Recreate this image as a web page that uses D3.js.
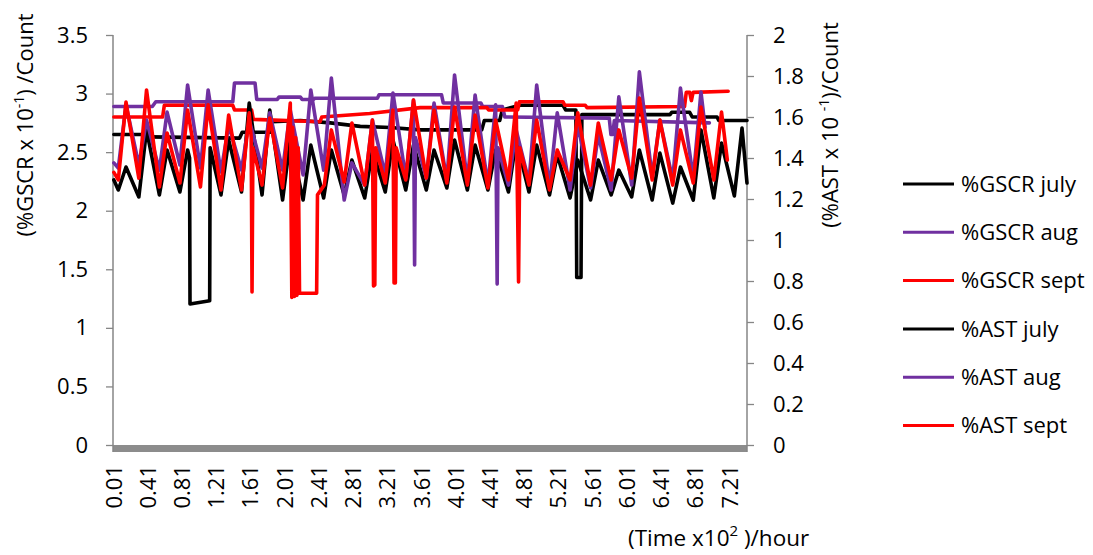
<!DOCTYPE html>
<html><head><meta charset="utf-8">
<script src="https://cdn.jsdelivr.net/npm/d3@7"></script>
<style>
body{margin:0;background:#fff;}
svg{display:block;font-family:"Open Sans",sans-serif;}
</style></head>
<body><svg id="c" width="1093" height="555"></svg>
<script>
// ---------- tick labels ----------
const timeTicks = ["0.01","0.41","0.81","1.21","1.61","2.01","2.41","2.81","3.21","3.61","4.01","4.41","4.81","5.21","5.61","6.01","6.41","6.81","7.21"];
const leftTicks = [0,0.5,1,1.5,2,2.5,3,3.5];
const rightTicks = [0,0.2,0.4,0.6,0.8,1,1.2,1.4,1.6,1.8,2];
const legendLabels = ["%GSCR july","%GSCR aug","%GSCR sept","%AST july","%AST aug","%AST sept"];

// ---------- series (time x10^2 h, value) ----------
// %GSCR (left axis) – slowly stepping levels
const gscrJuly = [[0.01,2.65],[0.35,2.65],[0.43,2.63],[1.48,2.62],[1.51,2.67],[1.84,2.67],[1.86,2.76],[2.19,2.77],[2.54,2.75],[2.89,2.72],[3.24,2.71],[3.59,2.69],[4.31,2.69],[4.34,2.77],[4.52,2.77],[4.55,2.86],[4.76,2.90],[5.26,2.90],[5.29,2.86],[5.41,2.86],[5.42,1.43],[5.47,1.43],[5.48,2.82],[6.51,2.82],[6.53,2.84],[6.74,2.84],[6.77,2.80],[7.06,2.80],[7.08,2.77],[7.41,2.77]];
const gscrAug = [[0.01,2.89],[0.46,2.89],[0.50,2.93],[1.40,2.93],[1.42,3.09],[1.66,3.09],[1.68,2.95],[1.92,2.95],[1.94,2.97],[2.19,2.97],[2.21,2.95],[2.34,2.95],[2.36,2.96],[3.09,2.96],[3.11,2.99],[3.84,2.99],[3.86,2.92],[4.30,2.92],[4.32,2.89],[4.55,2.89],[4.58,2.80],[5.80,2.79],[5.82,2.65],[5.84,2.65],[5.86,2.77],[6.97,2.75]];
const gscrSept = [[0.01,2.80],[0.58,2.80],[0.60,2.90],[1.40,2.90],[1.42,2.86],[1.62,2.86],[1.64,2.78],[2.42,2.76],[2.44,2.80],[3.00,2.83],[3.59,2.88],[4.37,2.88],[4.39,2.86],[4.73,2.86],[4.75,2.93],[5.26,2.93],[5.28,2.90],[5.52,2.90],[5.54,2.88],[6.68,2.89],[6.70,3.01],[6.74,3.01],[6.76,2.94],[6.78,3.01],[7.19,3.02]];

// %AST (right axis) – daily cycles
const astJuly = [[0.01,1.293],[0.062,1.244],[0.152,1.356],[0.302,1.21],[0.392,1.537],[0.542,1.22],[0.632,1.439],[0.782,1.234],[0.872,1.439],[0.895,1.40],[0.90,0.688],[1.13,0.704],[1.135,1.45],[1.262,1.22],[1.352,1.488],[1.502,1.234],[1.592,1.668],[1.742,1.22],[1.832,1.634],[1.982,1.195],[2.072,1.488],[2.222,1.195],[2.312,1.463],[2.462,1.205],[2.552,1.439],[2.702,1.22],[2.792,1.39],[2.942,1.205],[3.032,1.439],[3.182,1.234],[3.272,1.488],[3.422,1.244],[3.512,1.463],[3.662,1.244],[3.752,1.439],[3.902,1.254],[3.992,1.488],[4.142,1.244],[4.232,1.463],[4.382,1.244],[4.472,1.439],[4.622,1.234],[4.712,1.488],[4.862,1.234],[4.952,1.463],[5.102,1.22],[5.192,1.415],[5.342,1.205],[5.432,1.39],[5.582,1.195],[5.672,1.39],[5.822,1.22],[5.912,1.341],[6.062,1.21],[6.152,1.439],[6.302,1.195],[6.392,1.424],[6.542,1.18],[6.632,1.356],[6.782,1.195],[6.872,1.537],[7.022,1.205],[7.112,1.473],[7.262,1.215],[7.352,1.546],[7.41,1.278]];
const astAug = [[0.01,1.376],[0.062,1.351],[0.152,1.659],[0.302,1.366],[0.392,1.585],[0.542,1.341],[0.632,1.624],[0.782,1.366],[0.872,1.756],[1.022,1.351],[1.112,1.732],[1.262,1.332],[1.352,1.561],[1.502,1.341],[1.592,1.585],[1.742,1.351],[1.832,1.62],[1.982,1.341],[2.072,1.634],[2.222,1.317],[2.312,1.732],[2.462,1.341],[2.552,1.79],[2.702,1.195],[2.792,1.376],[2.942,1.268],[3.032,1.585],[3.182,1.317],[3.272,1.717],[3.422,1.302],[3.512,1.683],[3.525,0.878],[3.535,1.5],[3.662,1.302],[3.752,1.668],[3.902,1.293],[3.992,1.805],[4.142,1.283],[4.232,1.707],[4.382,1.268],[4.472,1.659],[4.49,0.785],[4.50,1.45],[4.622,1.268],[4.712,1.537],[4.862,1.283],[4.952,1.756],[5.102,1.259],[5.192,1.62],[5.342,1.244],[5.432,1.561],[5.582,1.254],[5.672,1.512],[5.822,1.244],[5.912,1.698],[6.062,1.268],[6.152,1.82],[6.302,1.307],[6.392,1.585],[6.542,1.293],[6.632,1.741],[6.782,1.302],[6.872,1.722],[6.92,1.55]];
const astSept = [[0.01,1.33],[0.062,1.293],[0.152,1.673],[0.302,1.302],[0.392,1.732],[0.542,1.259],[0.632,1.522],[0.782,1.278],[0.872,1.634],[1.022,1.259],[1.112,1.659],[1.262,1.244],[1.352,1.61],[1.502,1.244],[1.592,1.62],[1.615,1.50],[1.625,0.746],[1.635,1.45],[1.742,1.268],[1.832,1.595],[1.982,1.254],[2.072,1.668],[2.09,0.72],[2.10,1.55],[2.12,0.725],[2.135,1.5],[2.15,0.73],[2.165,1.45],[2.18,0.74],[2.38,0.74],[2.39,1.22],[2.47,1.268],[2.552,1.537],[2.702,1.283],[2.792,1.571],[2.942,1.268],[3.032,1.585],[3.045,0.776],[3.06,0.78],[3.07,1.45],[3.182,1.278],[3.272,1.634],[3.285,0.79],[3.30,0.79],[3.31,1.45],[3.422,1.293],[3.512,1.683],[3.662,1.302],[3.752,1.634],[3.902,1.278],[3.992,1.649],[4.142,1.268],[4.232,1.61],[4.382,1.254],[4.472,1.585],[4.622,1.293],[4.712,1.668],[4.74,0.795],[4.755,1.45],[4.862,1.268],[4.952,1.585],[5.102,1.244],[5.192,1.439],[5.342,1.293],[5.432,1.62],[5.582,1.268],[5.672,1.571],[5.822,1.293],[5.912,1.537],[6.062,1.302],[6.152,1.693],[6.302,1.293],[6.392,1.585],[6.542,1.268],[6.632,1.537],[6.782,1.278],[6.872,1.649],[7.022,1.293],[7.112,1.624],[7.18,1.39]];

const timeDomain = [0, 7.41];
const leftDomain = [0, 3.5];
const rightDomain = [0, 2];

// ---------- drawing ----------
const svg = d3.select("#c");
const colors = ["#000000","#7030A0","#FF0000","#000000","#7030A0","#FF0000"];
const x = d3.scaleLinear().domain(timeDomain).range([113, 747]);
const yL = d3.scaleLinear().domain(leftDomain).range([445, 35]);
const yR = d3.scaleLinear().domain(rightDomain).range([445, 35]);
const axisColor = "#868686";
const fs = "22px";
const lw = 3.6;

// bottom gray band (category axis)
svg.append("rect").attr("x", x(timeDomain[0])).attr("y", yL(0))
  .attr("width", x(timeDomain[1]) - x(timeDomain[0])).attr("height", 7)
  .attr("fill", "#8c8c8c");

// left axis
const gL = svg.append("g").attr("transform","translate(113,0)")
  .call(d3.axisLeft(yL).tickValues(leftTicks).tickSize(7).tickSizeOuter(0).tickPadding(18).tickFormat(d=>String(d)));
// right axis
const gR = svg.append("g").attr("transform","translate(747,0)")
  .call(d3.axisRight(yR).tickValues(rightTicks).tickSize(7).tickSizeOuter(0).tickPadding(19).tickFormat(d=>String(d)));
[gL,gR].forEach(g=>{
  g.select(".domain").attr("stroke",axisColor).attr("stroke-width",1.5).attr("d","M0,35V452");
  g.selectAll(".tick line").attr("stroke",axisColor).attr("stroke-width",1.3);
  g.selectAll(".tick text").attr("fill","#000").style("font-size",fs).style("font-family","'Open Sans',sans-serif");
});

// x tick labels (rotated)
svg.append("g").selectAll("text").data(timeTicks).join("text")
  .attr("transform", d => `translate(${x(+d)},465) rotate(-90)`)
  .attr("text-anchor","end").attr("dy","0.35em")
  .style("font-size",fs).text(d=>d);

// lines
const lineL = d3.line().x(d=>x(d[0])).y(d=>yL(d[1]));
const lineR = d3.line().x(d=>x(d[0])).y(d=>yR(d[1]));
const seriesL = [gscrJuly, gscrAug, gscrSept];
const seriesR = [astJuly, astAug, astSept];
seriesL.forEach((s,i)=>{
  svg.append("path").attr("d", lineL(s)).attr("fill","none")
    .attr("stroke", colors[i]).attr("stroke-width",lw).attr("stroke-linejoin","round").attr("stroke-linecap","round");
});
seriesR.forEach((s,i)=>{
  svg.append("path").attr("d", lineR(s)).attr("fill","none")
    .attr("stroke", colors[i+3]).attr("stroke-width",lw).attr("stroke-linejoin","round").attr("stroke-linecap","round");
});

// axis titles
const lt = svg.append("text").attr("transform","translate(25,125) rotate(-90)")
  .attr("text-anchor","middle").attr("dy","0.35em").style("font-size",fs);
lt.append("tspan").text("(%GSCR x 10");
lt.append("tspan").attr("baseline-shift","super").style("font-size","14px").text("-1");
lt.append("tspan").text(") /Count");

const rt = svg.append("text").attr("transform","translate(830,125) rotate(-90)")
  .attr("text-anchor","middle").attr("dy","0.35em").style("font-size",fs);
rt.append("tspan").text("(%AST x 10 ");
rt.append("tspan").attr("baseline-shift","super").style("font-size","14px").text("-1");
rt.append("tspan").text(")/Count");

const xt = svg.append("text").attr("x",628).attr("y",546).style("font-size","22.5px");
xt.append("tspan").text("(Time x10");
xt.append("tspan").attr("baseline-shift","super").style("font-size","15px").text("2");
xt.append("tspan").text(" )/hour");

// legend
const lg = svg.append("g").selectAll("g").data(legendLabels).join("g")
  .attr("transform",(d,i)=>`translate(903,${184 + i*48.3})`);
lg.append("line").attr("x1",0).attr("x2",51).attr("y1",0).attr("y2",0)
  .attr("stroke",(d,i)=>colors[i]).attr("stroke-width",3);
lg.append("text").attr("x",58).attr("dy","0.35em").style("font-size",fs).text(d=>d);
</script>
</body></html>
